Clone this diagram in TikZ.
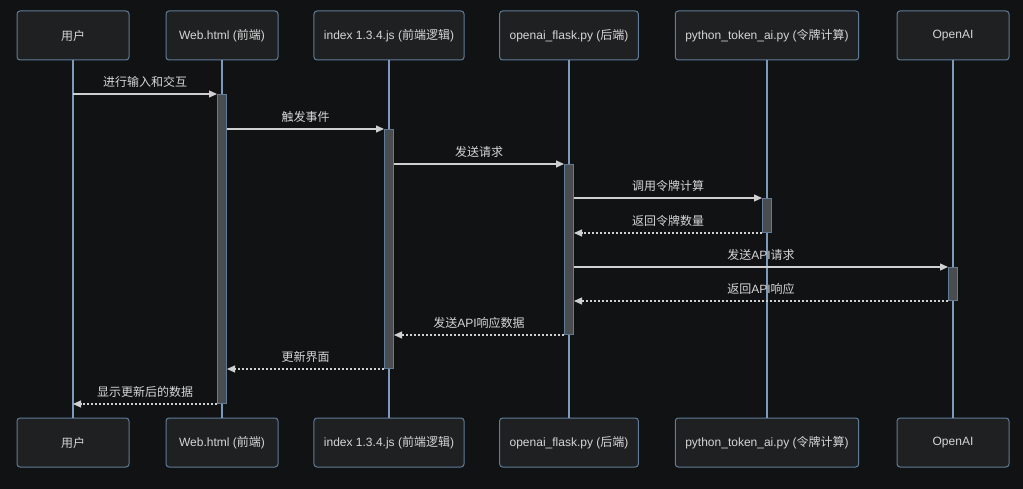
\documentclass[tikz,border=0pt]{standalone}
\usepackage{fontspec}
\setmainfont{Liberation Sans}
\newfontfamily\cjk{Noto Sans CJK SC}
\usetikzlibrary{arrows.meta,positioning}
\definecolor{bgdark}{RGB}{17,18,20}
\definecolor{boxfill}{RGB}{31,32,33}
\definecolor{boxline}{RGB}{96,124,152}
\definecolor{lifeblue}{RGB}{126,154,186}
\definecolor{actfill}{RGB}{74,77,80}
\definecolor{msggray}{RGB}{208,208,208}
\definecolor{txtgray}{RGB}{214,214,214}

\begin{document}
\begin{tikzpicture}[x=1pt,y=-1pt,>={Triangle[length=8pt,width=7pt]},
  actor/.style={draw=boxline,fill=boxfill,rounded corners=3pt,line width=1pt,minimum width=112pt,minimum height=49pt,inner xsep=10pt,text=txtgray,font=\fontsize{12}{14}\selectfont},
  life/.style={draw=lifeblue,line width=1.2pt},
  actbar/.style={draw=boxline,fill=actfill,line width=1pt,minimum width=9pt,inner sep=0pt,anchor=north},
  call/.style={->,draw=msggray,line width=1.2pt},
  reply/.style={call,dash pattern=on 2pt off 2pt},
  msglabel/.style={text=txtgray,font=\fontsize{12}{14}\selectfont,inner sep=0pt,above=6pt}]
  \path[use as bounding box,fill=bgdark] (0,0) rectangle (1023,489);
  % participants, top and bottom
  \node[actor] (u1) at (73,35.5) {{\cjk 用户}};
  \node[actor] (w1) at (222,35.5) {Web.html ({\cjk 前端})};
  \node[actor] (i1) at (389,35.5) {index 1.3.4.js ({\cjk 前端逻辑})};
  \node[actor] (f1) at (569,35.5) {openai\_flask.py ({\cjk 后端})};
  \node[actor] (t1) at (767,35.5) {python\_token\_ai.py ({\cjk 令牌计算})};
  \node[actor] (o1) at (953,35.5) {OpenAI};
  \node[actor] (u2) at (73,442.5) {{\cjk 用户}};
  \node[actor] (w2) at (222,442.5) {Web.html ({\cjk 前端})};
  \node[actor] (i2) at (389,442.5) {index 1.3.4.js ({\cjk 前端逻辑})};
  \node[actor] (f2) at (569,442.5) {openai\_flask.py ({\cjk 后端})};
  \node[actor] (t2) at (767,442.5) {python\_token\_ai.py ({\cjk 令牌计算})};
  \node[actor] (o2) at (953,442.5) {OpenAI};
  \foreach \p in {u,w,i,f,t,o}
    \draw[life] (\p1.south) -- (\p2.north);
  % activations
  \node[actbar,minimum height=309pt] (wa) at (222,94) {};
  \node[actbar,minimum height=239pt] (ia) at (389,129) {};
  \node[actbar,minimum height=170pt] (fa) at (569,164) {};
  \node[actbar,minimum height=34pt] (ta) at (767,198) {};
  \node[actbar,minimum height=33pt] (oa) at (953,267) {};
  % messages
  \draw[call] (u1 |- wa.north) -- (wa.north west) node[msglabel,midway] (m1) {\cjk 进行输入和交互};
  \draw[call] (wa.east |- ia.north) -- (ia.north west) node[msglabel,midway] (m2) {\cjk 触发事件};
  \draw[call] (ia.east |- fa.north) -- (fa.north west) node[msglabel,midway] (m3) {\cjk 发送请求};
  \draw[call] (fa.east |- ta.north) -- (ta.north west) node[msglabel,midway] (m4) {\cjk 调用令牌计算};
  \draw[reply] (ta.south west) -- (fa.east |- ta.south) node[msglabel,midway] (m5) {\cjk 返回令牌数量};
  \draw[call] (fa.east |- oa.north) -- (oa.north west) node[msglabel,midway] (m6) {{\cjk 发送}API{\cjk 请求}};
  \draw[reply] (oa.south west) -- (fa.east |- oa.south) node[msglabel,midway] (m7) {{\cjk 返回}API{\cjk 响应}};
  \draw[reply] (fa.south west) -- (ia.east |- fa.south) node[msglabel,midway] (m8) {{\cjk 发送}API{\cjk 响应数据}};
  \draw[reply] (ia.south west) -- (wa.east |- ia.south) node[msglabel,midway] (m9) {\cjk 更新界面};
  \draw[reply] (wa.south west) -- (u1 |- wa.south) node[msglabel,midway] (m10) {\cjk 显示更新后的数据};
\end{tikzpicture}
\end{document}
